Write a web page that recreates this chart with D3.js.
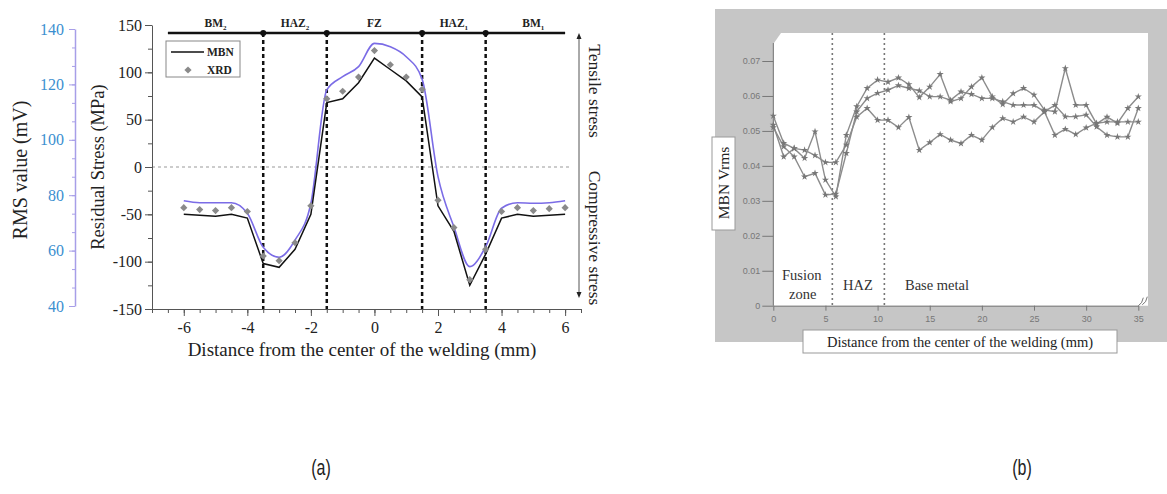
<!DOCTYPE html>
<html>
<head>
<meta charset="utf-8">
<script src="https://cdn.jsdelivr.net/npm/d3@7"></script>
<style>
  body { margin: 0; background: #fff; }
  svg { display: block; }
</style>
</head>
<body>
<svg id="fig" width="1167" height="494"></svg>
<script>
// ---- panel (a) data ----
const posA = [-6, -5.5, -5, -4.5, -4, -3.5, -3, -2.5, -2, -1.5, -1, -0.5, 0, 0.5, 1, 1.5, 2, 2.5, 3, 3.5, 4, 4.5, 5, 5.5, 6];
const mbnStress = [-50, -51, -52, -50, -54, -102, -106, -87, -50, 68, 72, 89, 115, 103, 91, 74, -41, -68, -125, -92, -54, -50, -52, -51, -50];
const xrdStress = [-43, -45, -46, -43, -47, -94, -99, -80, -41, 72, 80, 95, 123, 108, 95, 82, -35, -64, -119, -87, -47, -43, -46, -44, -43];
const rmsValue = [78.0, 77.3, 77.3, 77.3, 73.5, 61.2, 57.6, 63.8, 77.1, 118, 122.8, 126.4, 134.8, 133.6, 130, 121.9, 86.7, 68.6, 54.2, 61.4, 75.3, 77.3, 77.1, 77.3, 78.0];
const zoneEdgesA = [-3.5, -1.5, 1.5, 3.5];
const zoneLabelsA = [
  {x: -5, t: "BM", s: "2"}, {x: -2.5, t: "HAZ", s: "2"}, {x: 0, t: "FZ", s: ""},
  {x: 2.5, t: "HAZ", s: "1"}, {x: 5, t: "BM", s: "1"}
];
const stressTicks = [-150, -100, -50, 0, 50, 100, 150];
const rmsTicks = [40, 60, 80, 100, 120, 140];
const xTicksA = [-6, -4, -2, 0, 2, 4, 6];

// ---- panel (b) data ----
const posB = [0, 1, 2, 3, 4, 5, 6, 7, 8, 9, 10, 11, 12, 13, 14, 15, 16, 17, 18, 19, 20, 21, 22, 23, 24, 25, 26, 27, 28, 29, 30, 31, 32, 33, 34, 35];
const vrms1 = [0.0517, 0.0426, 0.0450, 0.0422, 0.0498, 0.0360, 0.0312, 0.0488, 0.0570, 0.0622, 0.0646, 0.0640, 0.0652, 0.0633, 0.0596, 0.0626, 0.0662, 0.0584, 0.0593, 0.0626, 0.0652, 0.0598, 0.0576, 0.0607, 0.0622, 0.0603, 0.0560, 0.0555, 0.0679, 0.0574, 0.0574, 0.0520, 0.0540, 0.0522, 0.0565, 0.0598];
const vrms2 = [0.0510, 0.0455, 0.0426, 0.0369, 0.0379, 0.0317, 0.0320, 0.0436, 0.0555, 0.0593, 0.0608, 0.0617, 0.0630, 0.0622, 0.0615, 0.0598, 0.0598, 0.0588, 0.0612, 0.0605, 0.0593, 0.0593, 0.0584, 0.0574, 0.0574, 0.0574, 0.0555, 0.0574, 0.0541, 0.0541, 0.0546, 0.0512, 0.0488, 0.0483, 0.0483, 0.0565];
const vrms3 = [0.0543, 0.0465, 0.0450, 0.0445, 0.0430, 0.0410, 0.0410, 0.0460, 0.0540, 0.0565, 0.0531, 0.0531, 0.0510, 0.0539, 0.0445, 0.0467, 0.0490, 0.0474, 0.0464, 0.0488, 0.0474, 0.0510, 0.0536, 0.0526, 0.0540, 0.0526, 0.0555, 0.0488, 0.0505, 0.0490, 0.0509, 0.0522, 0.0526, 0.0526, 0.0526, 0.0526];
const zoneEdgesB = [5.66, 10.65];
const vrmsTicks = [0, 0.01, 0.02, 0.03, 0.04, 0.05, 0.06, 0.07];
const xTicksB = [0, 5, 10, 15, 20, 25, 30, 35];

const serif = "'Liberation Serif', 'Times New Roman', serif";
const svg = d3.select("#fig");

// ================= panel (a) =================
const xA = d3.scaleLinear().domain([-7, 6.5]).range([152, 581]);
const yS = d3.scaleLinear().domain([-150, 150]).range([309, 25]);
const yR = d3.scaleLinear().domain([40, 140]).range([306, 29]);

const a = svg.append("g").attr("font-family", serif);

// zero line
a.append("line")
  .attr("x1", xA(-7)).attr("x2", xA(6.2))
  .attr("y1", yS(0)).attr("y2", yS(0))
  .attr("stroke", "#999").attr("stroke-dasharray", "3,3");

// minor ticks first
a.append("g").attr("transform", `translate(0,${yS(-150)})`)
  .call(d3.axisBottom(xA).tickValues(d3.range(-7, 6.51, 0.5)).tickSize(4).tickFormat(""))
  .call(g => g.select(".domain").remove())
  .call(g => g.selectAll("line").attr("stroke", "#555"));
const xAxA = a.append("g").attr("transform", `translate(0,${yS(-150)})`)
  .call(d3.axisBottom(xA).tickValues(xTicksA).tickSize(7).tickSizeOuter(0).tickFormat(d => String(d)));
xAxA.select(".domain").attr("stroke", "#555");
xAxA.selectAll("line").attr("stroke", "#555");
xAxA.selectAll("text").attr("font-family", serif).attr("font-size", 16).attr("fill", "#222").attr("dy", "0.85em");

a.append("g").attr("transform", `translate(${xA(-7)},0)`)
  .call(d3.axisLeft(yS).tickValues(d3.range(-150, 151, 25)).tickSize(4).tickFormat(""))
  .call(g => g.select(".domain").remove())
  .call(g => g.selectAll("line").attr("stroke", "#555"));
const yAxS = a.append("g").attr("transform", `translate(${xA(-7)},0)`)
  .call(d3.axisLeft(yS).tickValues(stressTicks).tickSize(7).tickSizeOuter(0).tickFormat(d => String(d)));
yAxS.select(".domain").attr("stroke", "#555");
yAxS.selectAll("line").attr("stroke", "#555");
yAxS.selectAll("text").attr("font-family", serif).attr("font-size", 16).attr("fill", "#222");

// RMS axis
a.append("g").attr("transform", "translate(75,0)")
  .call(d3.axisLeft(yR).tickValues(d3.range(40, 140.1, 20 / 3)).tickSize(3).tickFormat(""))
  .call(g => g.select(".domain").remove())
  .call(g => g.selectAll("line").attr("stroke", "#a79ee8"));
const yAxR = a.append("g").attr("transform", "translate(75,0)")
  .call(d3.axisLeft(yR).tickValues(rmsTicks).tickSize(6).tickSizeOuter(0));
yAxR.select(".domain").attr("stroke", "#a79ee8").attr("stroke-width", 1.5);
yAxR.selectAll("line").attr("stroke", "#a79ee8");
yAxR.selectAll("text").attr("font-family", serif).attr("font-size", 16).attr("fill", "#3b8fd0").attr("x", -11);

// axis titles
a.append("text").attr("transform", "translate(104,167) rotate(-90)")
  .attr("text-anchor", "middle").attr("font-size", 18.5).attr("fill", "#222")
  .text("Residual Stress (MPa)");
a.append("text").attr("transform", "translate(27,170) rotate(-90)")
  .attr("text-anchor", "middle").attr("font-size", 20).attr("fill", "#222")
  .text("RMS value (mV)");
a.append("text").attr("x", 362).attr("y", 356)
  .attr("text-anchor", "middle").attr("font-size", 19).attr("fill", "#222")
  .text("Distance from the center of the welding (mm)");

// zone bar on top
const barY = 33;
a.append("line").attr("x1", xA(-6.5)).attr("x2", xA(6)).attr("y1", barY).attr("y2", barY)
  .attr("stroke", "#111").attr("stroke-width", 2.5);
a.selectAll(".zedge").data(zoneEdgesA).join("line")
  .attr("x1", d => xA(d)).attr("x2", d => xA(d))
  .attr("y1", barY).attr("y2", yS(-150))
  .attr("stroke", "#111").attr("stroke-width", 2.5).attr("stroke-dasharray", "4,3");
a.selectAll(".zdot").data(zoneEdgesA).join("circle")
  .attr("cx", d => xA(d)).attr("cy", barY).attr("r", 3).attr("fill", "#111");
const zl = a.selectAll(".zlab").data(zoneLabelsA).join("text")
  .attr("x", d => xA(d.x)).attr("y", 27).attr("text-anchor", "middle")
  .attr("font-size", 11.5).attr("font-weight", "bold").attr("fill", "#222");
zl.append("tspan").text(d => d.t);
zl.append("tspan").attr("font-size", 7).attr("dy", 3).text(d => d.s);

// series
const ptsMbn = posA.map((x, i) => [x, mbnStress[i]]);
const ptsRms = posA.map((x, i) => [x, rmsValue[i]]);
a.append("path").datum(ptsRms)
  .attr("fill", "none").attr("stroke", "#7b6ce6").attr("stroke-width", 1.6)
  .attr("d", d3.line().x(d => xA(d[0])).y(d => yR(d[1])).curve(d3.curveMonotoneX));
a.append("path").datum(ptsMbn)
  .attr("fill", "none").attr("stroke", "#111").attr("stroke-width", 1.5)
  .attr("d", d3.line().x(d => xA(d[0])).y(d => yS(d[1])));
// square turned 45 deg -> even diamond like the original marker
const diamond = d3.symbol().type(d3.symbolSquare).size(26);
a.selectAll(".xrd").data(posA).join("path")
  .attr("transform", (d, i) => `translate(${xA(d)},${yS(xrdStress[i])}) rotate(45)`)
  .attr("d", diamond)
  .attr("fill", "#8a8a8a");

// legend
const lg = a.append("g");
lg.append("rect").attr("x", 166).attr("y", 41).attr("width", 74).attr("height", 36)
  .attr("fill", "#fff").attr("stroke", "#888");
lg.append("line").attr("x1", 171).attr("x2", 204).attr("y1", 52).attr("y2", 52)
  .attr("stroke", "#111").attr("stroke-width", 1.5);
lg.append("path").attr("transform", "translate(188,70) rotate(45)")
  .attr("d", diamond).attr("fill", "#8a8a8a");
lg.append("text").attr("x", 207).attr("y", 56).attr("font-size", 11.5).attr("font-weight", "bold").attr("fill", "#222").text("MBN");
lg.append("text").attr("x", 207).attr("y", 74).attr("font-size", 11.5).attr("font-weight", "bold").attr("fill", "#222").text("XRD");

// tensile / compressive arrow
const arX = 579;
a.append("line").attr("x1", arX).attr("x2", arX).attr("y1", 37).attr("y2", 294)
  .attr("stroke", "#555");
a.append("path").attr("d", `M${arX - 2.5},39 L${arX},33 L${arX + 2.5},39 Z`).attr("fill", "#222");
a.append("path").attr("d", `M${arX - 2.5},292 L${arX},298 L${arX + 2.5},292 Z`).attr("fill", "#222");
a.append("text").attr("transform", "translate(589,91) rotate(90)")
  .attr("text-anchor", "middle").attr("font-size", 17.5).attr("fill", "#222").text("Tensile stress");
a.append("text").attr("transform", "translate(589,238) rotate(90)")
  .attr("text-anchor", "middle").attr("font-size", 17.5).attr("fill", "#222").text("Compressive stress");

// ================= panel (b) =================
const xB = d3.scaleLinear().domain([0, 35]).range([773.3, 1138.3]);
const yB = d3.scaleLinear().domain([0, 0.07]).range([305.7, 61]);
const b = svg.append("g");

b.append("rect").attr("x", 715).attr("y", 9).attr("width", 452).attr("height", 333).attr("fill", "#c6c6c6");
b.append("path")
  .attr("d", `M774,43 L781,33 L1148,33 L1148,${yB(0)} L774,${yB(0)} Z`)
  .attr("fill", "#fff");

// zone boundaries
b.selectAll(".bedge").data(zoneEdgesB).join("line")
  .attr("x1", d => xB(d)).attr("x2", d => xB(d))
  .attr("y1", 33).attr("y2", yB(0))
  .attr("stroke", "#777").attr("stroke-width", 1.6).attr("stroke-dasharray", "2,3");

// axes
const yAxB = b.append("g").attr("transform", `translate(${xB(0)},0)`)
  .call(d3.axisLeft(yB).tickValues(vrmsTicks).tickSize(11).tickSizeOuter(0)
    .tickFormat(d => d === 0 ? "0" : d.toFixed(2)));
yAxB.select(".domain").attr("d", `M0,43V${yB(0)}`).attr("stroke", "#777");
yAxB.selectAll("line").attr("stroke", "#777");
yAxB.selectAll("text").attr("font-family", "'Liberation Sans', Arial, sans-serif")
  .attr("font-size", 9).attr("fill", "#777").attr("x", -13);

const xAxB = b.append("g").attr("transform", `translate(0,${yB(0)})`)
  .call(d3.axisBottom(xB).tickValues(xTicksB).tickSize(5).tickSizeOuter(0));
xAxB.select(".domain").attr("stroke", "#777");
xAxB.selectAll("line").attr("stroke", "#777");
xAxB.selectAll("text").attr("font-family", "'Liberation Sans', Arial, sans-serif")
  .attr("font-size", 9).attr("fill", "#777").attr("dy", "0.9em");
// small 3D flourish at the axis end
const ex = xB(35), ey = yB(0);
b.append("path")
  .attr("d", `M${ex},${ey} q4,-2 5,-8 M${ex + 4},${ey - 1} q4,-2 5,-8`)
  .attr("fill", "none").attr("stroke", "#777");

// series
const lineB = d3.line().x(d => xB(d[0])).y(d => yB(d[1]));
[vrms1, vrms2, vrms3].forEach(vals => {
  const pts = posB.map((x, i) => [x, vals[i]]);
  b.append("path").datum(pts)
    .attr("fill", "none").attr("stroke", "#8c8c8c").attr("stroke-width", 1.4)
    .attr("d", lineB);
  b.append("g").selectAll("path").data(pts).join("path")
    .attr("transform", d => `translate(${xB(d[0])},${yB(d[1])})`)
    .attr("d", d3.symbol().type(d3.symbolStar).size(16))
    .attr("fill", "#777");
});

// region labels
b.append("g").attr("font-family", serif).attr("font-size", 14.5).attr("fill", "#333")
  .call(g => {
    g.append("text").attr("x", 782).attr("y", 280).text("Fusion");
    g.append("text").attr("x", 789).attr("y", 299).text("zone");
    g.append("text").attr("x", 843).attr("y", 290).text("HAZ");
    g.append("text").attr("x", 905).attr("y", 290).text("Base metal");
  });

// axis title boxes
b.append("rect").attr("x", 712).attr("y", 137).attr("width", 23).attr("height", 93)
  .attr("fill", "#fff").attr("stroke", "#999");
b.append("text").attr("transform", "translate(729,183) rotate(-90)")
  .attr("text-anchor", "middle").attr("font-family", serif).attr("font-size", 15.5).attr("fill", "#222")
  .text("MBN Vrms");
b.append("rect").attr("x", 803).attr("y", 330).attr("width", 314).attr("height", 23)
  .attr("fill", "#fff").attr("stroke", "#999");
b.append("text").attr("x", 960).attr("y", 347)
  .attr("text-anchor", "middle").attr("font-family", serif).attr("font-size", 14.5).attr("fill", "#222")
  .text("Distance from the center of the welding (mm)");

// panel captions (narrow sans look)
const cap = "'Liberation Sans', Arial, sans-serif";
svg.append("text").attr("transform", "translate(321,475) scale(0.8,1.1)").attr("text-anchor", "middle")
  .attr("font-family", cap).attr("font-size", 20).attr("fill", "#222").text("(a)");
svg.append("text").attr("transform", "translate(1022,475) scale(0.8,1.1)").attr("text-anchor", "middle")
  .attr("font-family", cap).attr("font-size", 20).attr("fill", "#222").text("(b)");
</script>
</body>
</html>
